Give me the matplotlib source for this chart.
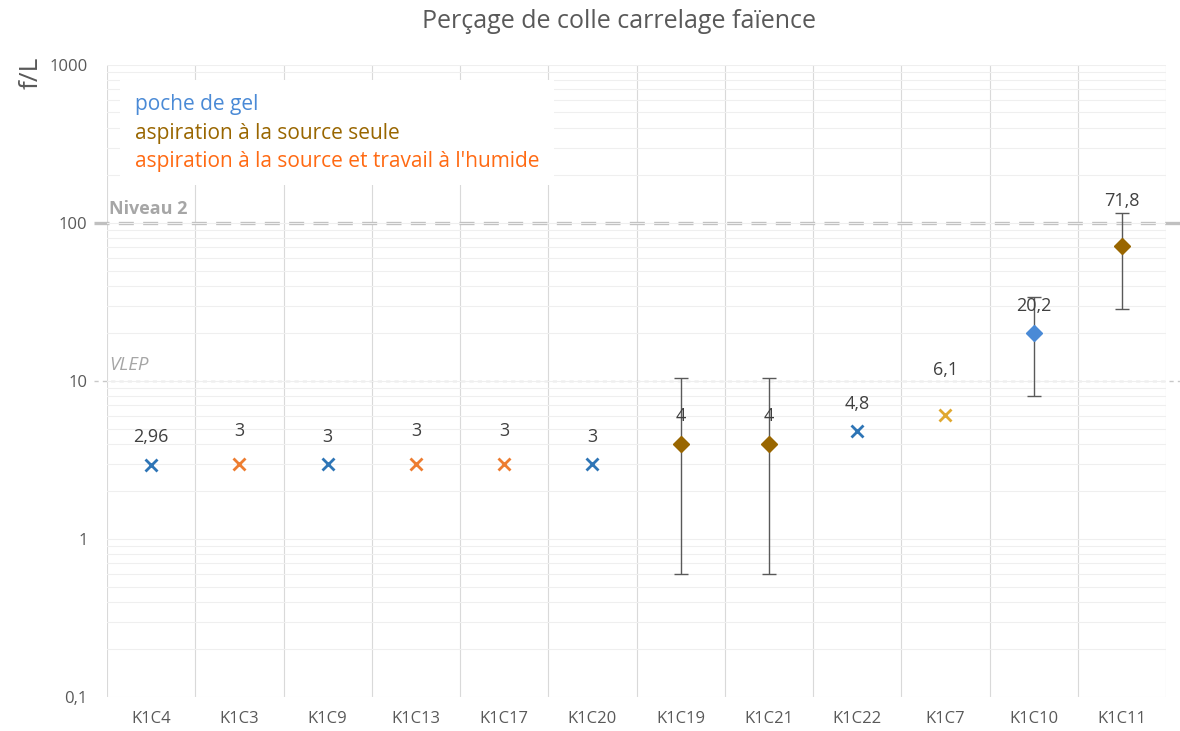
import matplotlib

matplotlib.use("Agg")
import matplotlib.pyplot as plt
import matplotlib.transforms as mtransforms
from matplotlib.ticker import FixedLocator, LogLocator, NullFormatter

plt.rcParams["font.family"] = ["Open Sans", "DejaVu Sans"]

# data
categories = ["K1C4", "K1C3", "K1C9", "K1C13", "K1C17", "K1C20",
              "K1C19", "K1C21", "K1C22", "K1C7", "K1C10", "K1C11"]
values = [2.96, 3, 3, 3, 3, 3, 4, 4, 4.8, 6.1, 20.2, 71.8]
labels = ["2,96", "3", "3", "3", "3", "3", "4", "4", "4,8", "6,1", "20,2", "71,8"]
err_low = [None, None, None, None, None, None, 0.6, 0.6, None, None, 8.0, 28.6]
err_high = [None, None, None, None, None, None, 10.5, 10.5, None, None, 34.0, 115.0]
markers = ["x", "x", "x", "x", "x", "x", "D", "D", "x", "x", "D", "D"]
colors = ["#2E75B6", "#ED7D31", "#2E75B6", "#ED7D31", "#ED7D31", "#2E75B6",
          "#996600", "#996600", "#2E75B6", "#E0A830", "#4A8AD6", "#996600"]

legend_lines = ["poche de gel", "aspiration à la source seule",
                "aspiration à la source et travail à l'humide"]
legend_colors = ["#4A8AD6", "#996600", "#FF6A13"]

niveau2 = 100
vlep = 10

# label distance above each marker, in pixels (layout, not data)
label_offset_px = [28, 33, 27, 33, 33, 27, 28, 28, 27, 45, 27, 45]

fg = "#595959"
grid = "#D9D9D9"

fig = plt.figure(figsize=(11.8, 7.31), dpi=100)
ax = fig.add_axes([0.0907, 0.0465, 0.8975, 0.8647])
ax.set_yscale("log")
ax.set_ylim(0.1, 1000)
n = len(categories)
ax.set_xlim(-0.5, n - 0.5)

# gridlines
ax.yaxis.set_major_locator(FixedLocator([0.1, 1, 10, 100, 1000]))
ax.yaxis.set_minor_locator(LogLocator(base=10, subs=range(2, 10)))
ax.yaxis.set_minor_formatter(NullFormatter())
ax.set_yticklabels(["0,1", "1", "10", "100", "1000"])
ax.grid(True, which="both", axis="y", color="#EFEFEF", linewidth=0.8, zorder=0)
for b in range(n + 1):
    ax.axvline(b - 0.5, color=grid, linewidth=0.8, zorder=0)

ax.set_xticks(range(n), categories)
ax.tick_params(axis="both", which="both", length=0, colors=fg)
ax.tick_params(axis="x", labelsize=12, pad=10)
ax.tick_params(axis="y", labelsize=12, pad=14)
for s in ax.spines.values():
    s.set_visible(False)

# reference lines, slightly wider than the plot area
trans = mtransforms.blended_transform_factory(ax.transAxes, ax.transData)
ax.plot([-0.012, 1.013], [niveau2, niveau2], transform=trans, clip_on=False,
        color="#C0C0C0", linewidth=2.4, dashes=(4.5, 2.8), zorder=1)
ax.plot([-0.012, 1.013], [vlep, vlep], transform=trans, clip_on=False,
        color="#C8C8C8", linewidth=1.0, dashes=(3, 3), zorder=1)
ax.text(0.002, niveau2 * 1.07, "Niveau 2", transform=trans, color="#A6A6A6",
        fontsize=13, fontweight="bold", va="bottom")
ax.text(0.002, vlep * 1.1, "VLEP", transform=trans, color="#A6A6A6",
        fontsize=13.5, style="italic", va="bottom")

# points, error bars, value labels
for i in range(n):
    if err_low[i] is not None:
        ax.errorbar(i, values[i],
                    yerr=[[values[i] - err_low[i]], [err_high[i] - values[i]]],
                    fmt="none", ecolor="#595959", elinewidth=1.0, capsize=5,
                    capthick=1.0, zorder=3)
    if markers[i] == "x":
        ax.plot(i, values[i], marker="x", color=colors[i], markersize=8,
                markeredgewidth=2, linestyle="none", zorder=4)
    else:
        ax.plot(i, values[i], marker="D", color=colors[i], markersize=8.5,
                linestyle="none", zorder=4)
    ax.annotate(labels[i], (i, values[i]), xytext=(0, label_offset_px[i] * 0.72),
                textcoords="offset points", ha="center", va="center",
                fontsize=13, color="#404040", zorder=5)

# legend as coloured text lines on a white box
box_y = [0.938, 0.892, 0.8465]
ax.add_patch(plt.Rectangle((0.0123, 0.81), 0.41, 0.166, transform=ax.transAxes,
                           facecolor="white", edgecolor="none", zorder=2))
for txt, col, yy in zip(legend_lines, legend_colors, box_y):
    ax.text(0.0264, yy, txt, transform=ax.transAxes, color=col, fontsize=15,
            va="center", zorder=3)

fig.text(0.026, 0.9, "f/L", rotation=90, fontsize=19, color=fg, va="center",
         ha="center")
fig.text(0.525, 0.97, "Perçage de colle carrelage faïence", fontsize=18,
         color=fg, ha="center", va="center")

fig.savefig("out.png", dpi=100, facecolor="white")
